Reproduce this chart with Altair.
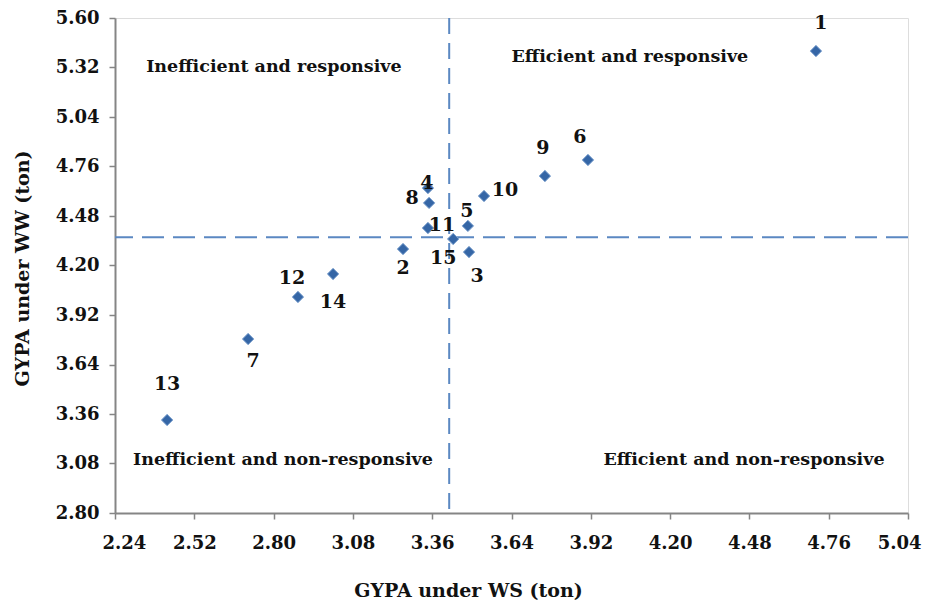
import altair as alt
import pandas as pd

# ---- data ----
genotype = [1, 2, 3, 4, 5, 6, 7, 8, 9, 10, 11, 12, 13, 14, 15]
gypa_ws = [4.715, 3.257, 3.490, 3.345, 3.486, 3.910, 2.710, 3.349, 3.758, 3.543, 3.345, 2.886, 2.424, 3.010, 3.434]
gypa_ww = [5.413, 4.293, 4.276, 4.638, 4.424, 4.797, 3.784, 4.554, 4.706, 4.593, 4.412, 4.022, 3.326, 4.152, 4.350]

quadrant_text = ["Inefficient and responsive", "Efficient and responsive",
                 "Inefficient and non-responsive", "Efficient and non-responsive"]
quadrant_ws = [2.801, 4.058, 2.833, 4.461]
quadrant_ww = [5.323, 5.379, 3.100, 3.100]

mean_ws = [3.42]
mean_ww = [4.36]

x_ticks = [2.24, 2.52, 2.80, 3.08, 3.36, 3.64, 3.92, 4.20, 4.48, 4.76, 5.04]
y_ticks = [2.80, 3.08, 3.36, 3.64, 3.92, 4.20, 4.48, 4.76, 5.04, 5.32, 5.60]

# label offsets in pixels (style only)
label_offset = {1: (5, -28), 2: (0, 19), 3: (8, 24), 4: (-1, -5), 5: (-1, -15),
                6: (-8, -23), 7: (5, 22), 8: (-17, -5), 9: (-2, -28), 10: (21, -6),
                11: (14, -3), 12: (-6, -19), 13: (0, -36), 14: (0, 28), 15: (-10, 19)}

FONT = "DejaVu Serif"
pts = pd.DataFrame({"id": genotype, "ws": gypa_ws, "ww": gypa_ww})
quad = pd.DataFrame({"label": quadrant_text, "ws": quadrant_ws, "ww": quadrant_ww})
vref = pd.DataFrame({"ws": mean_ws})
href = pd.DataFrame({"ww": mean_ww})

xscale = alt.Scale(domain=[2.24, 5.04], nice=False, zero=False)
yscale = alt.Scale(domain=[2.80, 5.60], nice=False, zero=False)

common_axis = dict(grid=False, format=".2f", labelFont=FONT, labelFontWeight="bold",
                   labelFontSize=18, labelColor="#111111", domainColor="#858585",
                   domainWidth=2, tickColor="#858585", tickWidth=1.5, tickSize=6,
                   titleFont=FONT, titleFontWeight="bold", titleFontSize=19,
                   titleColor="#111111")

xaxis = alt.Axis(values=x_ticks, title="GYPA under WS (ton)", labelPadding=15,
                 labelFlush=True, labelFlushOffset=13,
                 titleX=353, titleY=77, titleBaseline="middle", **common_axis)
yaxis = alt.Axis(values=y_ticks, title="GYPA under WW (ton)", labelPadding=10,
                 labelFlush=False,
                 titleX=-93, titleY=250, titleBaseline="middle", **common_axis)

X = alt.X("ws:Q", scale=xscale, axis=xaxis)
Y = alt.Y("ww:Q", scale=yscale, axis=yaxis)

vline = alt.Chart(vref).mark_rule(color="#5B88C2", strokeWidth=2, strokeDash=[16, 9]).encode(x=X)
hline = alt.Chart(href).mark_rule(color="#5B88C2", strokeWidth=2, strokeDash=[22, 9]).encode(y=Y)

points = alt.Chart(pts).mark_point(shape="diamond", filled=True, size=130,
                                   color="#3566A6", opacity=1, stroke="#7FA3D0",
                                   strokeWidth=1).encode(x=X, y=Y)

labels = []
for g in genotype:
    dx, dy = label_offset[g]
    labels.append(
        alt.Chart(pts).transform_filter(alt.datum.id == g)
        .mark_text(font=FONT, fontWeight="bold", fontSize=19, color="#111111",
                   dx=dx, dy=dy, align="center", baseline="middle")
        .encode(x=X, y=Y, text="id:N")
    )

quads = alt.Chart(quad).mark_text(font=FONT, fontWeight="bold", fontSize=17.5,
                                  color="#111111", align="center", baseline="middle").encode(
    x=X, y=Y, text="label:N")

chart = alt.layer(vline, hline, points, quads, *labels).properties(
    width=793, height=495,
    autosize=alt.AutoSizeParams(type="none"),
    padding={"left": 107, "top": 10, "right": 14, "bottom": 88},
).configure_view(stroke="#858585", strokeWidth=1.5).configure(background="white")

chart.save("out.html", embed_options={"renderer": "svg", "actions": False})
